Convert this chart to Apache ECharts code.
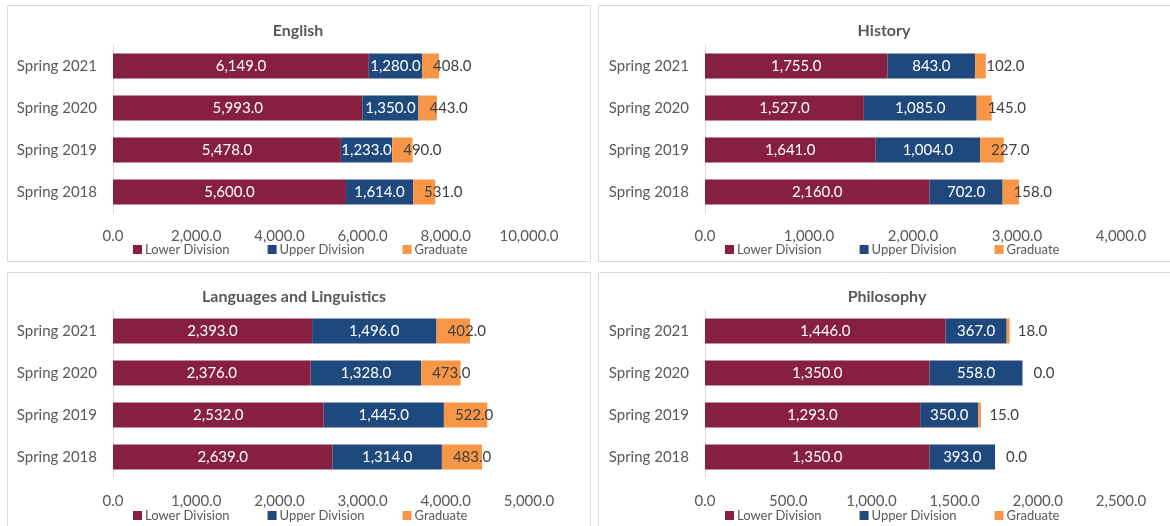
<!DOCTYPE html>
<html>
<head>
<meta charset="utf-8">
<script src="https://cdn.jsdelivr.net/npm/echarts@6/dist/echarts.min.js"></script>
<style>
  html, body { margin: 0; padding: 0; background: #ffffff; }
  #chart { width: 1170px; height: 526px; }
</style>
</head>
<body>
<div id="chart"></div>
<script>
// Terms, bottom to top on each category axis
const terms = ['Spring 2018', 'Spring 2019', 'Spring 2020', 'Spring 2021'];
const divisions = ['Lower Division', 'Upper Division', 'Graduate'];

// Enrollment by department (same order as terms)
const englishLower = [5600, 5478, 5993, 6149];
const englishUpper = [1614, 1233, 1350, 1280];
const englishGrad = [531, 490, 443, 408];

const historyLower = [2160, 1641, 1527, 1755];
const historyUpper = [702, 1004, 1085, 843];
const historyGrad = [158, 227, 145, 102];

const languagesLower = [2639, 2532, 2376, 2393];
const languagesUpper = [1314, 1445, 1328, 1496];
const languagesGrad = [483, 522, 473, 402];

const philosophyLower = [1350, 1293, 1350, 1446];
const philosophyUpper = [393, 350, 558, 367];
const philosophyGrad = [0, 15, 0, 18];

// Axis maxima and tick spacing per panel
const axisMax = [10000, 4000, 5000, 2500];
const axisStep = [2000, 1000, 1000, 500];

const panels = [
  { title: 'English', data: [englishLower, englishUpper, englishGrad] },
  { title: 'History', data: [historyLower, historyUpper, historyGrad] },
  { title: 'Languages and Linguistics', data: [languagesLower, languagesUpper, languagesGrad] },
  { title: 'Philosophy', data: [philosophyLower, philosophyUpper, philosophyGrad] }
];

const colors = ['#871F41', '#1F497D', '#F79646'];
const FONT = 'Lato, "Open Sans", sans-serif';
const fmt = v => Number(v).toLocaleString('en-US', { minimumFractionDigits: 1, maximumFractionDigits: 1 });

// Layout of the four panels
const layout = [
  { gridLeft: 113, gridTop: 45, titleX: 298, titleY: 30, legendX: 133, legendY: 249 },
  { gridLeft: 705, gridTop: 45, titleX: 884, titleY: 30, legendX: 725, legendY: 249 },
  { gridLeft: 113, gridTop: 310, titleX: 294, titleY: 296, legendX: 133, legendY: 515 },
  { gridLeft: 705, gridTop: 310, titleX: 887, titleY: 296, legendX: 725, legendY: 515 }
];
const gridW = 416, gridH = 168;

const grid = [], xAxis = [], yAxis = [], series = [], title = [], legend = [];

panels.forEach((p, i) => {
  const L = layout[i];
  grid.push({ left: L.gridLeft, top: L.gridTop, width: gridW, height: gridH });
  xAxis.push({
    type: 'value', gridIndex: i, min: 0, max: axisMax[i], interval: axisStep[i],
    axisLine: { show: false }, axisTick: { show: false }, splitLine: { show: false },
    axisLabel: { formatter: fmt, color: '#595959', fontFamily: FONT, fontSize: 15, margin: 16 }
  });
  yAxis.push({
    type: 'category', gridIndex: i, data: terms,
    axisLine: { show: true, lineStyle: { color: '#D9D9D9', width: 1 } },
    axisTick: { show: false },
    axisLabel: { color: '#595959', fontFamily: FONT, fontSize: 15, margin: 16 }
  });
  title.push({
    text: p.title, left: L.titleX, top: L.titleY - 7, textAlign: 'center',
    padding: 0,
    textStyle: { color: '#595959', fontFamily: FONT, fontSize: 16, fontWeight: 'bold' }
  });
  legend.push({
    data: divisions, left: L.legendX, top: L.legendY - 6, orient: 'horizontal',
    padding: 0,
    icon: 'rect', itemWidth: 9, itemHeight: 9, itemGap: 38,
    textStyle: { color: '#595959', fontFamily: FONT, fontSize: 13, padding: [0, 0, 0, -2] },
    selectedMode: false
  });
  p.data.forEach((vals, k) => {
    const isGrad = k === 2;
    series.push({
      name: divisions[k], type: 'bar', stack: 'panel' + i,
      xAxisIndex: i, yAxisIndex: i, data: vals, barWidth: 25,
      itemStyle: { color: colors[k] },
      label: {
        show: true,
        position: isGrad ? 'insideLeft' : 'inside',
        distance: isGrad ? 11 : 5,
        formatter: d => fmt(d.value),
        color: isGrad ? '#404040' : '#ffffff',
        fontFamily: FONT, fontSize: 15
      },
      emphasis: { disabled: true }
    });
  });
});

// Light frames around each panel
const frame = (x, y, w, h) => ({
  type: 'rect', shape: { x: x, y: y, width: w, height: h },
  style: { fill: 'none', stroke: '#D9D9D9', lineWidth: 1 }, silent: true
});

const chart = echarts.init(document.getElementById('chart'), null, { renderer: 'canvas' });
chart.setOption({
  animation: false,
  backgroundColor: '#ffffff',
  color: colors,
  graphic: [
    frame(7.5, 5.5, 583, 256),
    frame(598.5, 5.5, 600, 256),
    frame(7.5, 272.5, 583, 300),
    frame(598.5, 272.5, 600, 300)
  ],
  title, legend, grid, xAxis, yAxis, series
});
</script>
</body>
</html>
